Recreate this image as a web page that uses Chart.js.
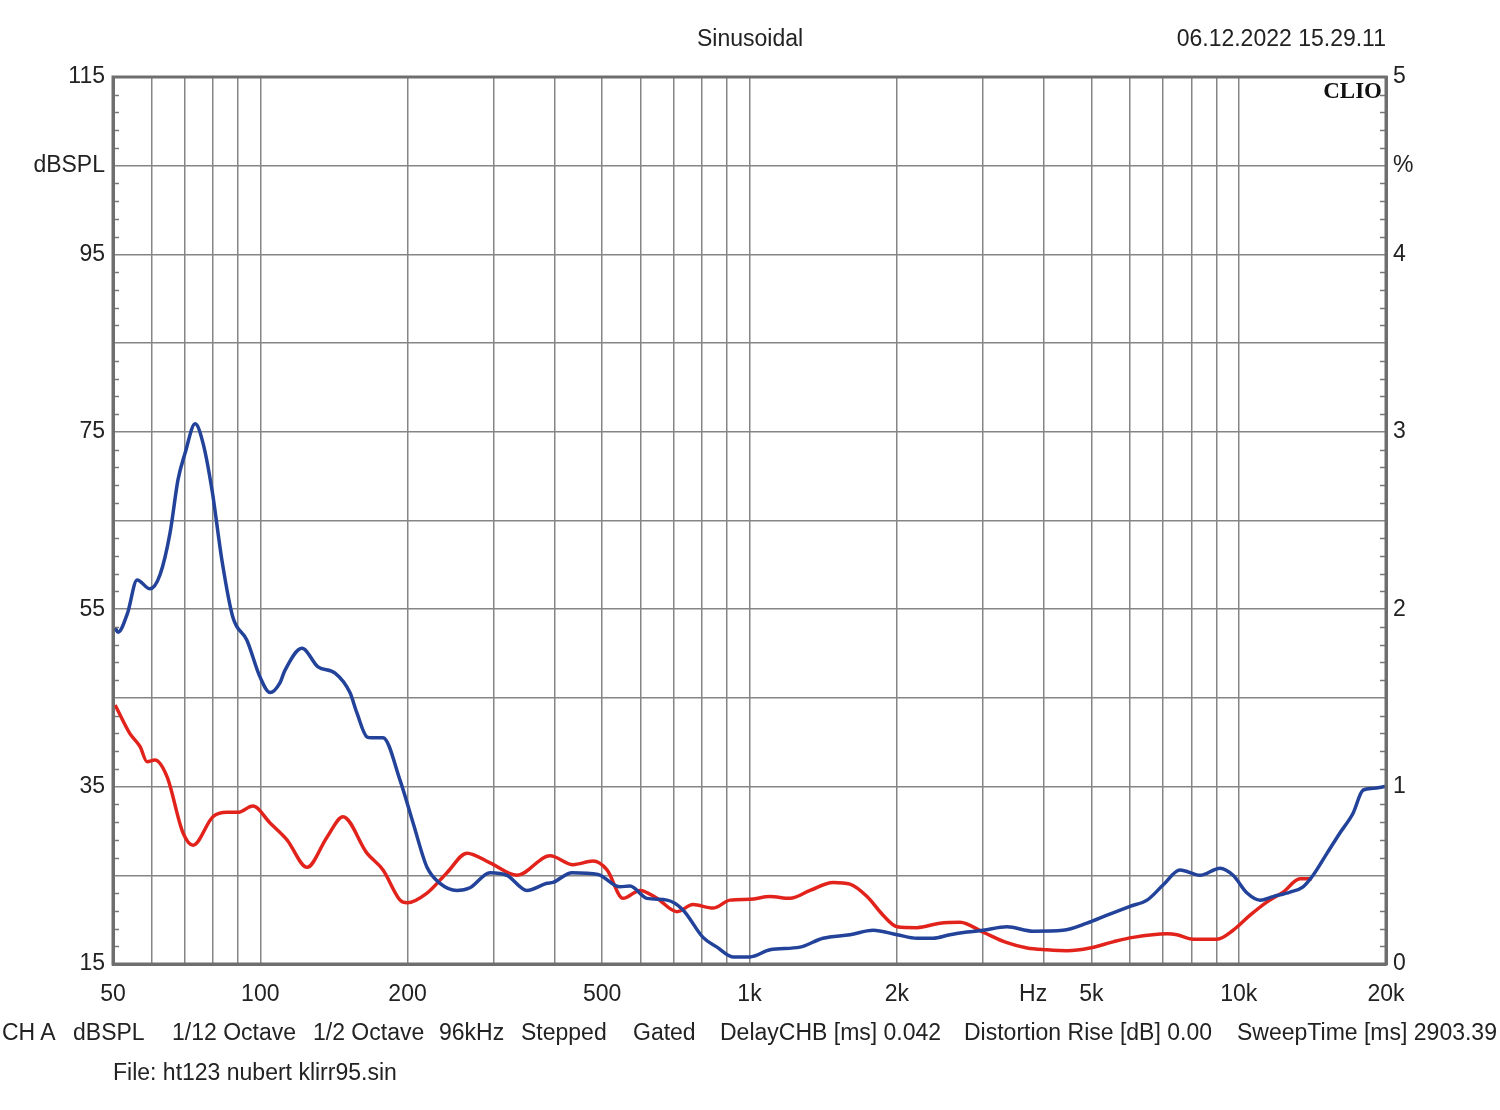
<!DOCTYPE html>
<html>
<head>
<meta charset="utf-8">
<script src="https://cdn.jsdelivr.net/npm/chart.js@4/dist/chart.umd.min.js"></script>
<style>
  body { margin: 0; background: #fff; }
  #wrap { position: relative; width: 1500px; height: 1110px; font-family: "Liberation Sans", Arial, sans-serif; color: #222; }
  #wrap canvas { position: absolute; left: 0; top: 0; }
  .t { position: absolute; font-size: 23px; white-space: nowrap; line-height: 1; }
</style>
</head>
<body>
<div id="wrap">
  <canvas id="chart"></canvas>
  <div class="t" style="left:697px; top:27px;">Sinusoidal</div>
  <div class="t" style="right:114px; top:27px;">06.12.2022 15.29.11</div>
  <div class="t" style="left:2px; top:1021px;">CH A</div>
  <div class="t" style="left:73px; top:1021px;">dBSPL</div>
  <div class="t" style="left:172px; top:1021px;">1/12 Octave</div>
  <div class="t" style="left:313px; top:1021px;">1/2 Octave</div>
  <div class="t" style="left:439px; top:1021px;">96kHz</div>
  <div class="t" style="left:521px; top:1021px;">Stepped</div>
  <div class="t" style="left:633px; top:1021px;">Gated</div>
  <div class="t" style="left:720px; top:1021px;">DelayCHB [ms] 0.042</div>
  <div class="t" style="left:964px; top:1021px;">Distortion Rise [dB] 0.00</div>
  <div class="t" style="left:1237px; top:1021px;">SweepTime [ms] 2903.39</div>
  <div class="t" style="left:113px; top:1061px;">File: ht123 nubert klirr95.sin</div>
</div>
<script>
// frequency ticks (Hz) and their labels
const freqTicks = [50, 60, 70, 80, 90, 100, 200, 300, 400, 500, 600, 700, 800, 900,
    1000, 2000, 3000, 3800, 4000, 5000, 6000, 7000, 8000, 9000, 10000, 20000];
const freqLabels = { 50: '50', 100: '100', 200: '200', 500: '500', 1000: '1k', 2000: '2k',
    3800: 'Hz', 5000: '5k', 10000: '10k', 20000: '20k' };
const splLabels = { 115: '115', 105: 'dBSPL', 95: '95', 75: '75', 55: '55', 35: '35', 15: '15' };
const pctLabels = { 5: '5', 4.5: '%', 4: '4', 3: '3', 2: '2', 1: '1', 0: '0' };

// blue curve
const blueFreq = [50.5, 51.2, 53.5, 56, 59.5, 62.4, 65.4, 67.9, 70.2, 73.6, 76.4, 79.7, 83.5, 87.9,
    93.9, 99.8, 104.7, 109.7, 112.3, 121.7, 131.2, 142.2, 152.5, 157.6, 165.2, 169.1, 178.2, 193.1,
    205.3, 219.2, 233, 252.4, 268.4, 294.9, 319.3, 350.8, 385.6, 396.7, 433.8, 490.2, 543.6, 569.8,
    617.3, 678.4, 731.3, 803.5, 858.2, 925.2, 1002, 1101, 1268, 1413, 1605, 1789, 2003, 2200, 2372,
    2570, 2784, 3000, 3360, 3798, 4373, 4896, 5381, 5996, 6496, 7003, 7586, 8335, 9161, 9738, 10400,
    11058, 11753, 12735, 13537, 14189, 15157, 16113, 17127, 17953, 18823, 19914];
const blueDb = [52.9, 52.4, 54.5, 58.3, 57.3, 58.9, 63.6, 69.6, 72.6, 75.9, 73.7, 68.4, 60.5, 54.1,
    51.5, 47.4, 45.6, 46.7, 48.1, 50.6, 48.5, 47.8, 45.6, 43.3, 40.6, 40.5, 40.5, 35.7,
    30.9, 25.9, 24.1, 23.3, 23.6, 25.3, 25.0, 23.3, 24.1, 24.2, 25.3, 25.1, 23.7, 23.8,
    22.4, 22.2, 21.1, 18.0, 16.9, 15.8, 15.8, 16.6, 16.9, 17.9, 18.3, 18.8, 18.3, 17.9, 17.9,
    18.3, 18.6, 18.8, 19.2, 18.7, 18.8, 19.6, 20.5, 21.5, 22.2, 23.9, 25.6, 25.0, 25.8, 25.0, 23.0,
    22.2, 22.6, 23.1, 23.7, 25.0, 27.5, 29.8, 32.0, 34.6, 34.8, 35.0];

// red curve
const redFreq = [50.5, 54.1, 56.8, 58.7, 60.9, 64.5, 69.5, 72.9, 80, 85.5, 90, 96.6, 104.7, 113.4,
    124.6, 136.9, 147.6, 165.2, 178.2, 193.1, 199.6, 219.2, 240.8, 264.6, 294.9, 334.7, 391.1, 435.8,
    478.8, 511.4, 551.4, 597.3, 647.1, 710.9, 766.5, 842.2, 912.3, 1002, 1101, 1210, 1330, 1482, 1605,
    1739, 1875, 2003, 2200, 2452, 2694, 3000, 3360, 3693, 4057, 4457, 4966, 5535, 6081, 7136, 7480,
    8065, 9033, 9738, 10550, 11428, 12323, 13348, 14122];
const redDb = [44.2, 41.0, 39.5, 37.8, 38.0, 36.1, 29.8, 28.4, 31.6, 32.1, 32.1, 32.8, 30.9, 29.0,
    25.9, 29.3, 31.6, 27.5, 25.6, 22.2, 21.9, 23.0, 25.3, 27.5, 26.4, 25.0, 27.2, 26.2,
    26.6, 25.6, 22.4, 23.3, 22.4, 20.9, 21.7, 21.3, 22.2, 22.3, 22.6, 22.4, 23.3, 24.2, 24.0,
    22.6, 20.5, 19.2, 19.1, 19.6, 19.7, 18.6, 17.4, 16.8, 16.6, 16.5, 16.8, 17.5, 18.0, 18.4, 18.3,
    17.8, 17.8, 18.8, 20.5, 22.0, 23.1, 24.6, 24.6];

const toPoints = (fs, ds) => fs.map((f, i) => ({ x: f, y: ds[i] }));
const tickFont = { family: 'Liberation Sans', size: 23 };
const gridColor = '#858585';

const framePlugin = {
    id: 'frame',
    afterDraw(chart) {
        const { ctx, chartArea: a, scales } = chart;
        ctx.save();
        ctx.strokeStyle = '#777';
        ctx.lineWidth = 1.5;
        ctx.beginPath();
        for (let v = 17; v < 115; v += 2) {
            if ((v - 15) % 10 === 0) continue;
            const y = Math.round(scales.y.getPixelForValue(v)) + 0.5;
            ctx.moveTo(a.left, y); ctx.lineTo(a.left + 6, y);
            ctx.moveTo(a.right - 6, y); ctx.lineTo(a.right, y);
        }
        ctx.stroke();
        ctx.strokeStyle = '#6e6e6e';
        ctx.lineWidth = 3;
        ctx.strokeRect(a.left, a.top, a.right - a.left, a.bottom - a.top);
        ctx.fillStyle = '#111';
        ctx.font = 'bold 23px "Liberation Serif", serif';
        ctx.textAlign = 'right';
        ctx.textBaseline = 'middle';
        ctx.fillText('CLIO', a.right - 4, a.top + 15);
        ctx.restore();
    }
};

const canvas = document.getElementById('chart');
canvas.width = 1500; canvas.height = 1110;

new Chart(canvas.getContext('2d'), {
    type: 'line',
    data: {
        datasets: [
            { data: toPoints(blueFreq, blueDb), borderColor: '#23439a', borderWidth: 3.5,
              pointRadius: 0, cubicInterpolationMode: 'monotone', yAxisID: 'y' },
            { data: toPoints(redFreq, redDb), borderColor: '#e2231c', borderWidth: 3.5,
              pointRadius: 0, cubicInterpolationMode: 'monotone', yAxisID: 'y' }
        ]
    },
    options: {
        responsive: false,
        animation: false,
        layout: { padding: { top: 77, left: 0, right: 0, bottom: 0 } },
        plugins: { legend: { display: false }, tooltip: { enabled: false } },
        scales: {
            x: {
                type: 'logarithmic', min: 50, max: 20000,
                afterBuildTicks: s => { s.ticks = freqTicks.map(v => ({ value: v })); },
                afterFit: s => { s.height = 146; },
                ticks: { autoSkip: false, maxRotation: 0, padding: 17, color: '#222', font: tickFont,
                    callback: v => freqLabels[v] || '' },
                grid: { drawTicks: false, lineWidth: 1.5,
                    color: c => (c.tick && c.tick.value === 3800) ? 'rgba(0,0,0,0)' : gridColor },
                border: { color: '#6e6e6e', width: 3 }
            },
            y: {
                position: 'left', min: 15, max: 115,
                afterBuildTicks: s => { s.ticks = []; for (let v = 15; v <= 115; v += 10) s.ticks.push({ value: v }); },
                afterFit: s => { s.width = 113; },
                ticks: { autoSkip: false, padding: 8, color: '#222', font: tickFont,
                    callback: v => splLabels[v] || '' },
                grid: { drawTicks: false, lineWidth: 1.5, color: gridColor },
                border: { color: '#6e6e6e', width: 3 }
            },
            y2: {
                position: 'right', min: 0, max: 5,
                afterBuildTicks: s => { s.ticks = []; for (let v = 0; v <= 10; v++) s.ticks.push({ value: v / 2 }); },
                afterFit: s => { s.width = 114; },
                ticks: { autoSkip: false, padding: 7, color: '#222', font: tickFont,
                    callback: v => pctLabels[v] || '' },
                grid: { display: false, drawTicks: false },
                border: { color: '#6e6e6e', width: 3 }
            }
        }
    },
    plugins: [framePlugin]
});
</script>
</body>
</html>
